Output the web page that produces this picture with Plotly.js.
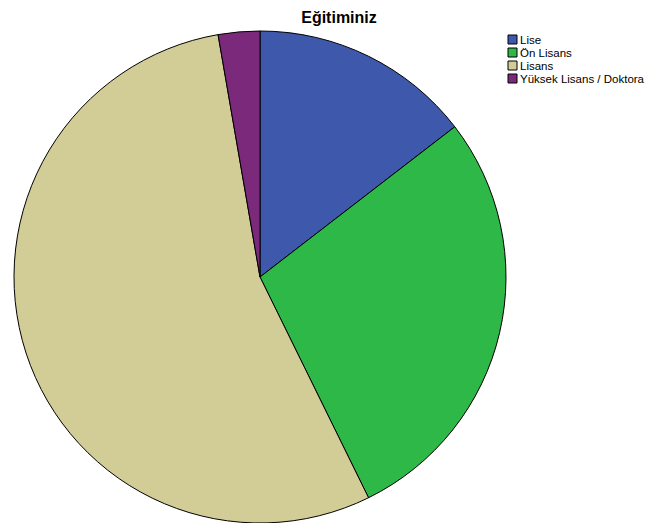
<!DOCTYPE html>
<html><head><meta charset="utf-8">
<script src="https://cdn.plot.ly/plotly-3.0.1.min.js"></script>
<style>html,body{margin:0;padding:0;background:#fff}#chart{width:646px;height:523px}</style>
</head><body><div id="chart"></div>
<script>
const categories = ["Lise", "Ön Lisans", "Lisans", "Yüksek Lisans / Doktora"];
const counts = [16, 31, 60, 3];
const colors = ["#3e58ac", "#2eb848", "#d2cc96", "#7b2a7b"];

const W = 646, H = 523;
const trace = {
  type: "pie",
  labels: categories,
  values: counts,
  sort: false,
  direction: "clockwise",
  rotation: 0,
  textinfo: "none",
  hoverinfo: "label+value+percent",
  marker: {colors: colors, line: {color: "#000", width: 1}},
  domain: {x: [14/W, 506/W], y: [0, 1 - 31/H]}
};

// manual legend built from the category/color arrays
const shapes = [], annotations = [];
categories.forEach((c, i) => {
  const top = 35 + 13 * i;
  shapes.push({type: "rect", xref: "paper", yref: "paper",
    x0: 508/W, x1: 517/W, y0: 1 - (top + 9)/H, y1: 1 - top/H,
    fillcolor: colors[i], line: {color: "#000", width: 1}});
  annotations.push({xref: "paper", yref: "paper", x: 518/W, y: 1 - (top + 4.5)/H,
    xanchor: "left", yanchor: "middle", text: c, showarrow: false,
    font: {size: 11.5, color: "#000"}});
});

const layout = {
  width: W, height: H,
  margin: {l: 0, r: 0, t: 0, b: 0},
  paper_bgcolor: "#fff",
  font: {family: "Liberation Sans, Arial, sans-serif", color: "#000"},
  title: {text: "<b>Eğitiminiz</b>", x: 339/W, xanchor: "center", y: 1 - 17/H, yanchor: "middle", font: {size: 16, color: "#000"}},
  showlegend: false,
  shapes: shapes,
  annotations: annotations
};

Plotly.newPlot("chart", [trace], layout, {displayModeBar: false});
</script></body></html>
